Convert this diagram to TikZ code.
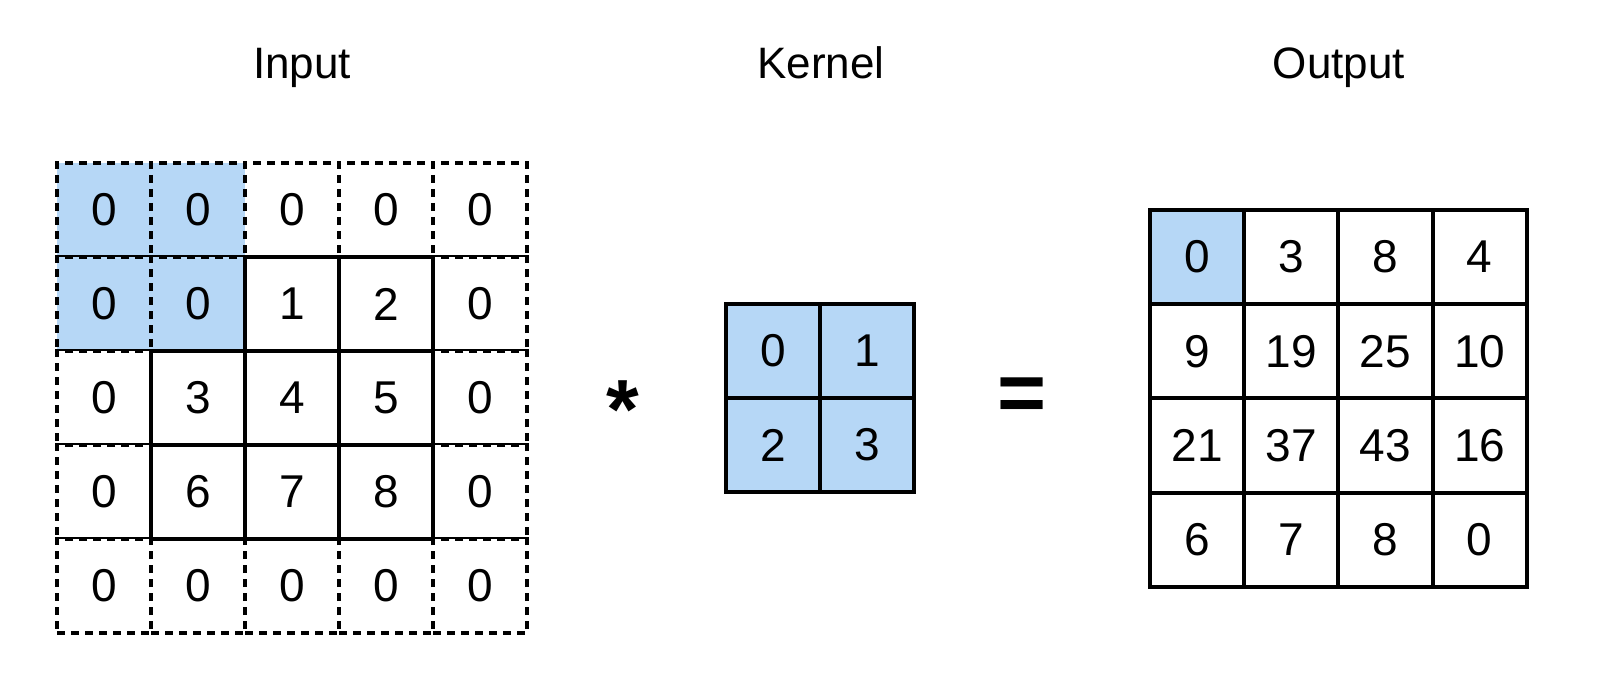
\documentclass[tikz,border=0pt]{standalone}
\usepackage{fontspec}
\setmainfont{Liberation Sans}
\definecolor{cellblue}{RGB}{182,215,246}
\begin{document}
\begin{tikzpicture}[x=0.5pt,y=-0.5pt,
  cell/.style={minimum size=47pt, inner sep=0pt, outer sep=0pt, font=\fontsize{23}{27}\selectfont, line width=1.9pt},
  padcell/.style={cell, draw, dash pattern=on 4pt off 3pt},
  solidcell/.style={cell, draw},
  title/.style={font=\fontsize{22}{26}\selectfont, anchor=base},
  opsym/.style={font=\fontsize{42}{46}\selectfont\bfseries, inner sep=0pt}]
\useasboundingbox (0,0) rectangle (1598,700);
\fill[white] (0,0) rectangle (1598,700);
% titles
\node[title] (tin) at (302,79) {Input};
\node[title] (tker) at (821,79) {Kernel};
\node[title] (tout) at (1339,79) {Output};
% input padding cells
\foreach \r/\c/\v/\f in {0/0/0/cellblue,0/1/0/cellblue,0/2/0/white,0/3/0/white,0/4/0/white,
  1/0/0/cellblue,1/1/0/cellblue,1/4/0/white,
  2/0/0/white,2/4/0/white,3/0/0/white,3/4/0/white,
  4/0/0/white,4/1/0/white,4/2/0/white,4/3/0/white,4/4/0/white}
  \node[padcell, fill=\f] (in-\r-\c) at ({57+94*(\c+0.5)},{163+94*(\r+0.5)}) {\v};
% input solid cells
\foreach \r/\c/\v in {1/2/1,1/3/2,2/1/3,2/2/4,2/3/5,3/1/6,3/2/7,3/3/8}
  \node[solidcell, fill=white] (in-\r-\c) at ({57+94*(\c+0.5)},{163+94*(\r+0.5)}) {\v};
% kernel
\foreach \r/\c/\v in {0/0/0,0/1/1,1/0/2,1/1/3}
  \node[solidcell, fill=cellblue] (k-\r-\c) at ({726+94*(\c+0.5)},{304+94*(\r+0.5)}) {\v};
% output
\foreach \r/\c/\v/\f in {0/0/0/cellblue,0/1/3/white,0/2/8/white,0/3/4/white,
  1/0/9/white,1/1/19/white,1/2/25/white,1/3/10/white,
  2/0/21/white,2/1/37/white,2/2/43/white,2/3/16/white,
  3/0/6/white,3/1/7/white,3/2/8/white,3/3/0/white}
  \node[solidcell, fill=\f] (out-\r-\c) at ({1150+94.2*(\c+0.5)},{210+94.2*(\r+0.5)}) {\v};
% operators
\node[opsym] (star) at (623,410) {*};
\node[opsym] (eq) at (1022,400) {=};
\end{tikzpicture}
\end{document}
